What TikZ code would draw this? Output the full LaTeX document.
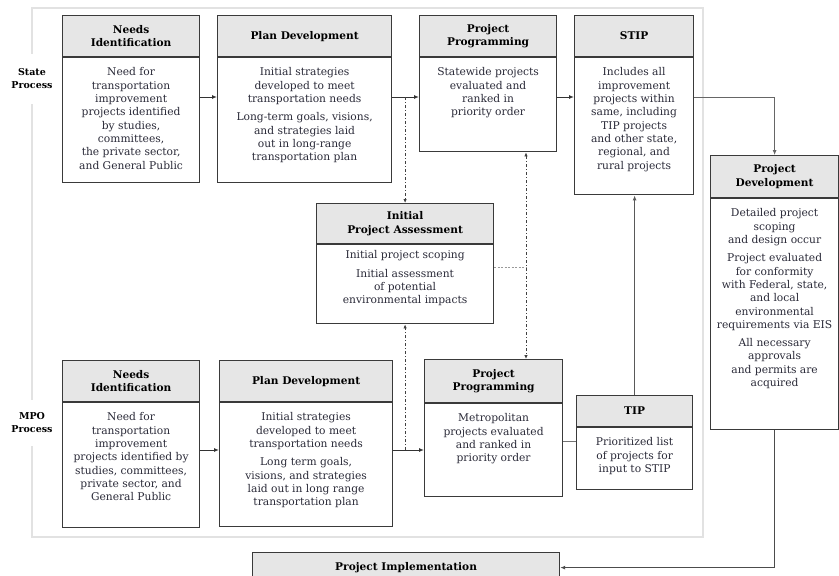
\documentclass[tikz,border=0pt]{standalone}
\usepackage{fontspec}
\setmainfont{DejaVu Serif}
\usetikzlibrary{arrows.meta,positioning}

\definecolor{boxline}{HTML}{3A3A3A}
\definecolor{headfill}{HTML}{E6E6E6}
\definecolor{framegray}{HTML}{E2E2E2}
\definecolor{textgray}{HTML}{2A2A38}

% body text of a box: width, height, text set from the top
\newcommand{\bodytext}[4][10pt]{%
  \begin{minipage}[c][#3][t]{#2}\centering\vspace*{#1}#4\end{minipage}}

\tikzset{
  head/.style={draw=boxline, fill=headfill, line width=1.2pt, anchor=north west,
    inner sep=0pt, align=center, font=\fontsize{10.6}{13.5}\selectfont\bfseries},
  body/.style={draw=boxline, fill=white, line width=1.2pt, anchor=north west,
    inner sep=0pt, text=textgray, font=\fontsize{10.7}{13.3}\selectfont},
  lane/.style={fill=white, align=center, inner sep=1pt,
    font=\fontsize{9.5}{13}\selectfont\bfseries},
  flow/.style={draw=black!80, line width=1pt, -{Latex[length=5pt,width=4pt]}},
  link/.style={draw=black!75, line width=1pt, dash pattern=on 3pt off 2pt on 1pt off 2pt},
}

\begin{document}
\begin{tikzpicture}[x=1pt, y=-1pt]
  \useasboundingbox (0,0) rectangle (839,576);

  % Process frame and lane labels
  \draw[framegray, line width=1.5pt] (32,8) rectangle (703,537);
  \node[lane, minimum height=50pt] (state) at (32,79)  {State\\Process};
  \node[lane, minimum height=46pt] (mpo)   at (32,423) {MPO\\Process};

  % State process
  \node[head, minimum width=137pt, minimum height=41pt] (sni-h) at (62,15) {Needs\\Identification};
  \node[body] (sni) at (sni-h.south west) {\bodytext{137pt}{125pt}{Need for\\transportation\\improvement\\projects identified\\by studies,\\committees,\\the private sector,\\and General Public}};

  \node[head, minimum width=174pt, minimum height=41pt] (spd-h) at (217,15) {Plan Development};
  \node[body] (spd) at (spd-h.south west) {\bodytext{174pt}{125pt}{Initial strategies\\developed to meet\\transportation needs\\[5pt]Long-term goals, visions,\\and strategies laid\\out in long-range\\transportation plan}};

  \node[head, minimum width=137pt, minimum height=41pt] (spp-h) at (419,15) {Project\\Programming};
  \node[body] (spp) at (spp-h.south west) {\bodytext{137pt}{94pt}{Statewide projects\\evaluated and\\ranked in\\priority order}};

  \node[head, minimum width=119pt, minimum height=41pt] (stip-h) at (574,15) {STIP};
  \node[body] (stip) at (stip-h.south west) {\bodytext{119pt}{137pt}{Includes all\\improvement\\projects within\\same, including\\TIP projects\\and other state,\\regional, and\\rural projects}};

  % Initial assessment
  \node[head, minimum width=177pt, minimum height=40pt] (ipa-h) at (316,203) {Initial\\Project Assessment};
  \node[body] (ipa) at (ipa-h.south west) {\bodytext[6pt]{177pt}{79pt}{Initial project scoping\\[5pt]Initial assessment\\of potential\\environmental impacts}};

  % MPO process
  \node[head, minimum width=137pt, minimum height=41pt] (mni-h) at (62,360) {Needs\\Identification};
  \node[body] (mni) at (mni-h.south west) {\bodytext{137pt}{125pt}{Need for\\transportation\\improvement\\projects identified by\\studies, committees,\\private sector, and\\General Public}};

  \node[head, minimum width=173pt, minimum height=41pt] (mpd-h) at (219,360) {Plan Development};
  \node[body] (mpd) at (mpd-h.south west) {\bodytext{173pt}{124pt}{Initial strategies\\developed to meet\\transportation needs\\[5pt]Long term goals,\\visions, and strategies\\laid out in long range\\transportation plan}};

  \node[head, minimum width=138pt, minimum height=43pt] (mpp-h) at (424,359) {Project\\Programming};
  \node[body] (mpp) at (mpp-h.south west) {\bodytext{138pt}{93pt}{Metropolitan\\projects evaluated\\and ranked in\\priority order}};

  \node[head, minimum width=116pt, minimum height=31pt] (tip-h) at (576,395) {TIP};
  \node[body] (tip) at (tip-h.south west) {\bodytext{116pt}{62pt}{Prioritized list\\of projects for\\input to STIP}};

  % Development and implementation
  \node[head, minimum width=128pt, minimum height=42pt] (pdev-h) at (710,155) {Project\\Development};
  \node[body] (pdev) at (pdev-h.south west) {\bodytext{128pt}{231pt}{Detailed project\\scoping\\and design occur\\[5pt]Project evaluated\\for conformity\\with Federal, state,\\and local\\environmental\\requirements via EIS\\[5pt]All necessary\\approvals\\and permits are\\acquired}};

  \node[head, minimum width=307pt, minimum height=30pt] (pimp-h) at (252,552) {Project Implementation};

  % Rows and columns of the connectors
  \coordinate (srow)  at (0,97);   % state flow
  \coordinate (mrow)  at (0,450);  % MPO flow
  \coordinate (trow)  at (0,441);  % MPO programming to TIP
  \coordinate (drow)  at (0,267);  % assessment feed
  \coordinate (xlink) at (526,0);  % programming link

  % Main flows
  \draw[flow] (sni.east |- srow) -- (spd.west |- srow);
  \draw[flow] (spd.east |- srow) -- (spp.west |- srow);
  \draw[flow] (spp.east |- srow) -- (stip.west |- srow);
  \draw[flow] (mni.east |- mrow) -- (mpd.west |- mrow);
  \draw[flow] (mpd.east |- mrow) -- (mpp.west |- mrow);
  \draw[black!55, line width=0.8pt] (mpp.east |- trow) -- (tip.west |- trow);
  \draw[flow, draw=black!65, line width=1.6pt] (tip-h.north) -- (stip.south -| tip-h.north);
  \draw[flow, draw=black!60, line width=0.8pt] (stip.east |- srow) -| (pdev-h.north);
  \draw[flow, draw=black!70, line width=1.4pt] (pdev.south) |- (pimp-h.east);

  % Assessment links
  \draw[link, -{Latex[length=4pt,width=3.5pt]}] (ipa-h.north |- srow) -- (ipa-h.north);
  \draw[link, -{Latex[length=4pt,width=3.5pt]}] (ipa.south |- mrow) -- (ipa.south);
  \draw[link, {Latex[length=4pt,width=3.5pt]}-{Latex[length=4pt,width=3.5pt]}]
    (spp.south -| xlink) -- (mpp-h.north -| xlink);
  \draw[black!40, line width=0.8pt, dash pattern=on 2pt off 1.5pt] (ipa.east |- drow) -- (xlink |- drow);

\end{tikzpicture}
\end{document}
